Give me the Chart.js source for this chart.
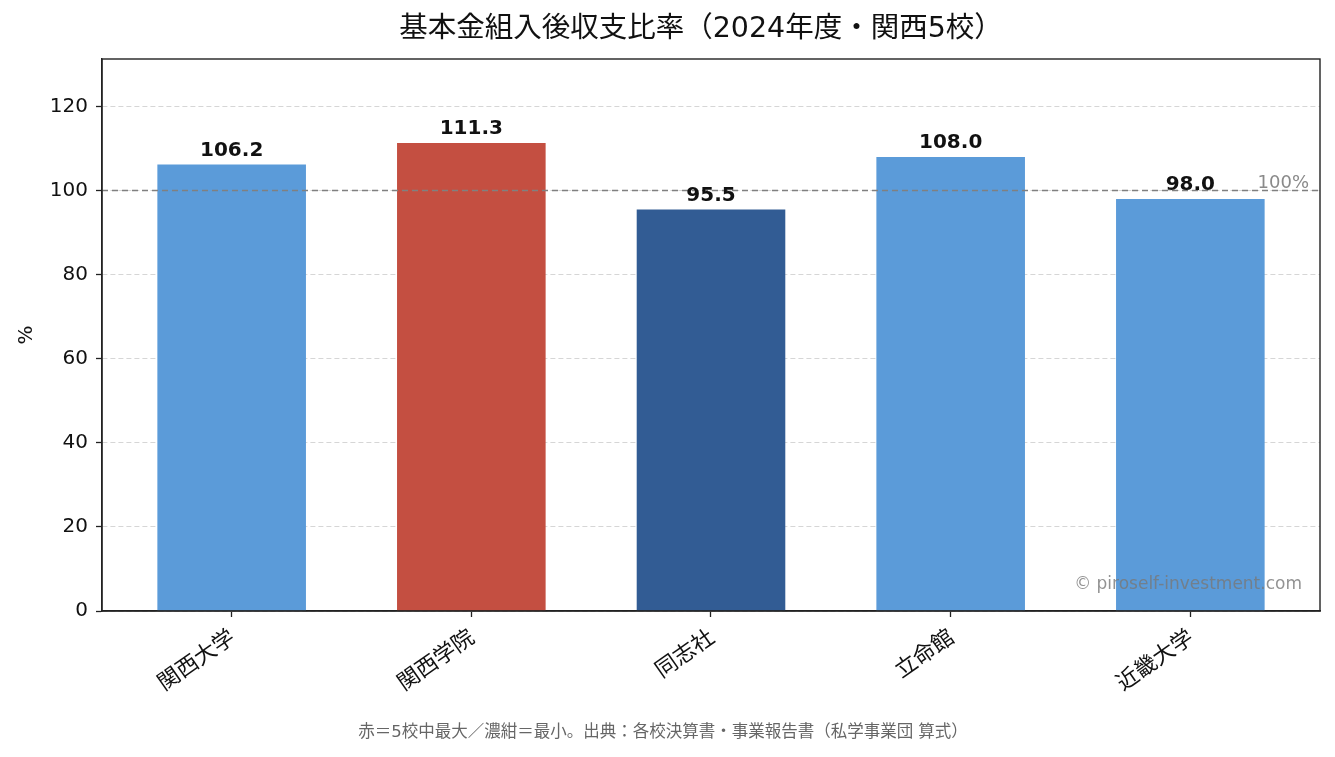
<!DOCTYPE html>
<html lang="ja">
<head>
<meta charset="utf-8">
<title>基本金組入後収支比率</title>
<script src="https://cdn.jsdelivr.net/npm/chart.js@4"></script>
<style>
  html, body { margin: 0; padding: 0; background: #fff; }
  #chart { display: block; }
</style>
</head>
<body>
<canvas id="chart" width="1335" height="757"></canvas>
<script>
// データ
const schools = ['関西大学', '関西学院', '同志社', '立命館', '近畿大学'];
const ratios = [106.2, 111.3, 95.5, 108.0, 98.0];
const barColors = ['#5b9bd9', '#c44f41', '#325c94', '#5b9bd9', '#5b9bd9'];
const yTicks = [0, 20, 40, 60, 80, 100, 120];
const refValue = 100;

const JP = '"Noto Sans CJK JP", sans-serif';
const MIX = '"DejaVu Sans", "Noto Sans CJK JP", sans-serif';

const titleText = '基本金組入後収支比率（2024年度・関西5校）';
const footerText = '赤＝5校中最大／濃紺＝最小。出典：各校決算書・事業報告書（私学事業団 算式）';
const watermark = '© piroself-investment.com';

// 注記・枠線などを描くプラグイン
const extras = {
  id: 'extras',
  afterDatasetsDraw(chart) {
    const { ctx, chartArea: a, scales: { x, y } } = chart;
    const yRef = y.getPixelForValue(refValue);

    // 100% の基準線
    ctx.save();
    ctx.strokeStyle = '#808080';
    ctx.lineWidth = 1.5;
    ctx.setLineDash([6, 4]);
    ctx.beginPath();
    ctx.moveTo(a.left, yRef);
    ctx.lineTo(a.right, yRef);
    ctx.stroke();
    ctx.setLineDash([]);

    ctx.fillStyle = '#8a8a8a';
    ctx.font = '18px "DejaVu Sans"';
    ctx.textAlign = 'right';
    ctx.textBaseline = 'alphabetic';
    ctx.fillText('100%', a.right - 11, yRef - 3);

    // 値ラベル
    ctx.fillStyle = '#111';
    ctx.font = 'bold 20px "DejaVu Sans"';
    ctx.textAlign = 'center';
    ratios.forEach((v, i) => {
      ctx.fillText(v.toFixed(1), x.getPixelForValue(i), y.getPixelForValue(v) - 9);
    });

    // ウォーターマーク
    ctx.fillStyle = 'rgba(120,120,120,0.8)';
    ctx.font = '17px "DejaVu Sans"';
    ctx.textAlign = 'right';
    ctx.fillText(watermark, a.right - 18, a.bottom - 22);
    ctx.restore();
  },
  afterDraw(chart) {
    const { ctx, chartArea: a } = chart;
    ctx.save();
    // 枠線
    ctx.strokeStyle = '#222';
    ctx.lineWidth = 1.4;
    ctx.strokeRect(a.left, a.top, a.right - a.left, a.bottom - a.top);

    // タイトル
    ctx.fillStyle = '#111';
    ctx.font = '28.5px ' + MIX;
    ctx.textAlign = 'center';
    ctx.textBaseline = 'middle';
    ctx.fillText(titleText, 701, 30);

    // 脚注
    ctx.fillStyle = '#666';
    ctx.font = '16.5px ' + MIX;
    ctx.fillText(footerText, 663, 733);
    ctx.restore();
  }
};

const ctx = document.getElementById('chart').getContext('2d');
new Chart(ctx, {
  type: 'bar',
  data: {
    datasets: [{
      data: ratios.map((v, i) => ({ x: i, y: v })),
      backgroundColor: barColors,
      barPercentage: 0.62,
      categoryPercentage: 1
    }]
  },
  options: {
    responsive: false,
    animation: false,
    devicePixelRatio: 1,
    layout: { padding: { top: 59, right: 15, left: 0, bottom: 0 } },
    plugins: {
      legend: { display: false },
      tooltip: { enabled: false }
    },
    scales: {
      x: {
        type: 'linear',
        offset: false,
        min: -0.541,
        max: 4.541,
        afterBuildTicks: (s) => { s.ticks = schools.map((_, i) => ({ value: i })); },
        afterFit: (s) => { s.height = 146; },
        ticks: {
          callback: (v) => schools[v],
          autoSkip: false,
          minRotation: 35,
          maxRotation: 35,
          padding: 6,
          color: '#111',
          font: { family: JP, size: 22 }
        },
        grid: { offset: false, drawOnChartArea: false, tickLength: 6, tickColor: '#222', tickWidth: 1.3 },
        border: { color: '#222', width: 1.4 }
      },
      y: {
        min: 0,
        max: 131.3,
        afterBuildTicks: (s) => { s.ticks = yTicks.map((v) => ({ value: v })); },
        afterFit: (s) => { s.width = 102; },
        ticks: {
          padding: 8,
          color: '#111',
          font: { family: '"DejaVu Sans"', size: 20 }
        },
        title: {
          display: true,
          text: '%',
          color: '#111',
          font: { family: '"DejaVu Sans"', size: 20 },
          padding: { top: 15, bottom: 0 }
        },
        grid: {
          color: '#d6d6d6',
          lineWidth: 1,
          tickLength: 6,
          tickColor: '#222',
          tickWidth: 1.3,
          tickBorderDash: []
        },
        border: { color: '#222', width: 1.4, dash: [5, 3] }
      }
    }
  },
  plugins: [extras]
});
</script>
</body>
</html>
